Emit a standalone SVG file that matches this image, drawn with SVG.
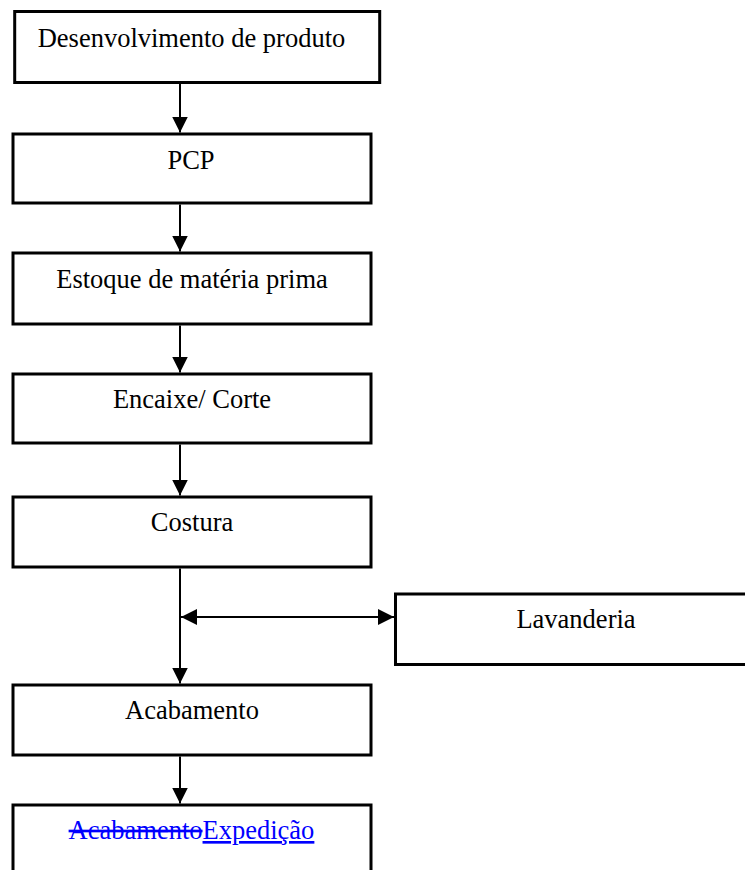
<svg xmlns="http://www.w3.org/2000/svg" width="745" height="870" viewBox="0 0 745 870">
<style>
.box{fill:#fff;stroke:#000;stroke-width:3}
.lbl{font-family:"Liberation Serif","Times New Roman",serif;font-size:26.5px;fill:#000;text-anchor:middle}
.conn{stroke:#000;stroke-width:2;fill:none}
</style>
<defs>
<marker id="ah" markerUnits="userSpaceOnUse" markerWidth="16" markerHeight="16" viewBox="0 0 15 15" refX="15" refY="7.5" orient="auto-start-reverse">
<path d="M0,0 L15,7.5 L0,15 Z" fill="#000"/>
</marker>
</defs>
<rect width="745" height="870" fill="#fff"/>
<g id="connectors">
<line class="conn" x1="180" y1="84" x2="180" y2="132.5" marker-end="url(#ah)"/>
<line class="conn" x1="180" y1="204.5" x2="180" y2="251.5" marker-end="url(#ah)"/>
<line class="conn" x1="180" y1="325.5" x2="180" y2="372.5" marker-end="url(#ah)"/>
<line class="conn" x1="180" y1="444.5" x2="180" y2="495.5" marker-end="url(#ah)"/>
<line class="conn" x1="180" y1="568.5" x2="180" y2="683.5" marker-end="url(#ah)"/>
<line class="conn" x1="181" y1="617" x2="394" y2="617" marker-start="url(#ah)" marker-end="url(#ah)"/>
<line class="conn" x1="180" y1="756.5" x2="180" y2="803.5" marker-end="url(#ah)"/>
</g>
<g id="n1"><rect class="box" x="14.7" y="11.5" width="365" height="71"/><text class="lbl" x="191.5" y="47">Desenvolvimento de produto</text></g>
<g id="n2"><rect class="box" x="13" y="134" width="358" height="69"/><text class="lbl" x="191" y="169">PCP</text></g>
<g id="n3"><rect class="box" x="13" y="253" width="358" height="71"/><text class="lbl" x="192" y="288">Estoque de matéria prima</text></g>
<g id="n4"><rect class="box" x="13" y="374" width="358" height="69"/><text class="lbl" x="192" y="408">Encaixe/ Corte</text></g>
<g id="n5"><rect class="box" x="13" y="497" width="358" height="70"/><text class="lbl" x="192" y="531">Costura</text></g>
<g id="n6"><rect class="box" x="395.5" y="594" width="400" height="70.5"/><text class="lbl" x="576" y="628">Lavanderia</text></g>
<g id="n7"><rect class="box" x="13" y="685" width="358" height="70"/><text class="lbl" x="192" y="719">Acabamento</text></g>
<g id="n8"><rect class="box" x="13" y="805" width="358" height="80"/><text class="lbl" x="191.5" y="839" style="fill:#0000ff"><tspan text-decoration="line-through">Acabamento</tspan><tspan text-decoration="underline">Expedição</tspan></text></g>
</svg>
